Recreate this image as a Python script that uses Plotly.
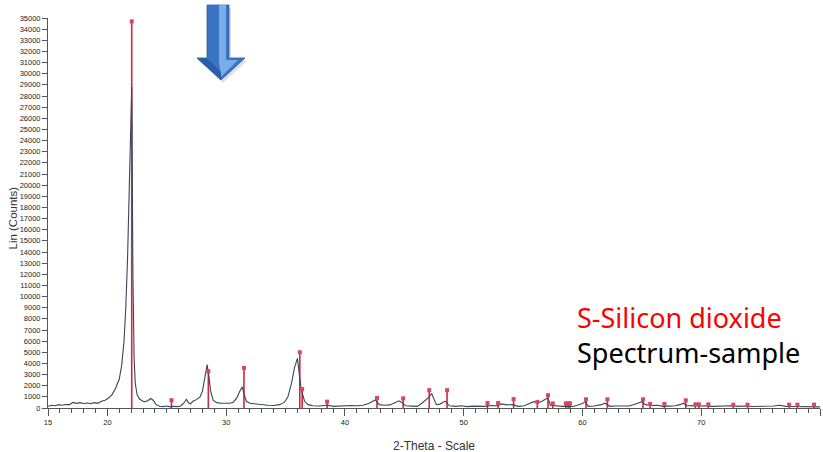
import plotly.graph_objects as go

# ---------------- data ----------------
two_theta = [15.0, 15.3, 15.6, 15.9, 16.2, 16.5, 16.8, 17.1, 17.4, 17.7, 18.0, 18.3, 18.6, 18.9,
             19.2, 19.5, 19.8, 20.1, 20.4, 20.7, 21.0, 21.2, 21.4, 21.55, 21.7, 21.85, 21.95,
             22.05, 22.15, 22.25, 22.35, 22.5, 22.7, 22.9, 23.1, 23.4, 23.65, 23.85, 24.1, 24.4,
             24.7, 25.0, 25.3, 25.6, 25.9, 26.2, 26.45, 26.65, 26.85, 27.0, 27.2, 27.5, 27.8,
             28.0, 28.2, 28.4, 28.55, 28.7, 28.9, 29.2, 29.6, 30.0, 30.3, 30.6, 30.9, 31.15,
             31.35, 31.5, 31.7, 32.0, 32.5, 33.0, 33.5, 34.0, 34.5, 34.9, 35.2, 35.5, 35.75,
             36.0, 36.15, 36.3, 36.45, 36.6, 36.9, 37.3, 37.8, 38.3, 38.6, 39.0, 39.5, 40.0,
             40.5, 41.0, 41.5, 42.0, 42.3, 42.55, 42.9, 43.3, 43.8, 44.2, 44.55, 44.8, 45.1,
             45.6, 46.1, 46.5, 46.8, 47.1, 47.3, 47.5, 47.7, 48.0, 48.3, 48.45, 48.8, 49.3,
             49.8, 50.3, 50.8, 51.3, 51.8, 52.3, 52.8, 53.2, 53.6, 54.1, 54.6, 55.1, 55.6,
             55.9, 56.3, 56.6, 56.9, 57.1, 57.3, 57.8, 58.3, 58.8, 59.2, 59.7, 60.0, 60.25,
             60.5, 61.0, 61.6, 61.9, 62.3, 62.8, 63.4, 63.9, 64.3, 64.7, 65.0, 65.3, 65.8,
             66.3, 66.8, 67.3, 67.8, 68.2, 68.5, 68.8, 69.3, 69.8, 70.3, 70.9, 71.5, 72.0,
             72.6, 73.1, 73.7, 74.3, 75.0, 75.6, 76.1, 76.6, 77.1, 77.7, 78.3, 78.9, 79.4, 80.0]
counts = [150, 250, 200, 300, 250, 320, 300, 500, 420, 480, 400, 450, 380, 480,
          420, 600, 700, 900, 1200, 1800, 2600, 3800, 6000, 9000, 13500, 19500, 24500,
          28800, 12000, 4500, 2200, 1200, 800, 650, 550, 650, 850, 700, 300, 150,
          120, 180, 100, 150, 120, 200, 450, 780, 450, 380, 600, 750, 1000,
          1500, 2600, 3900, 2800, 1500, 700, 480, 420, 450, 420, 520, 900, 1500,
          1900, 1300, 600, 420, 350, 300, 250, 220, 300, 500, 1000, 2200, 3600,
          4450, 3200, 1800, 1200, 600, 300, 200, 180, 220, 250, 150, 180, 150,
          220, 200, 250, 400, 600, 720, 300, 250, 280, 450, 650, 500, 200,
          170, 150, 450, 700, 1000, 1300, 800, 300, 350, 550, 620, 200, 150,
          200, 120, 170, 130, 150, 220, 200, 370, 280, 300, 150, 200, 400,
          570, 500, 600, 800, 870, 250, 170, 150, 170, 130, 300, 400, 570,
          150, 180, 300, 430, 150, 180, 150, 180, 300, 450, 570, 300, 220,
          250, 150, 170, 200, 300, 430, 200, 230, 180, 200, 150, 170, 150,
          200, 150, 180, 130, 150, 120, 180, 250, 150, 140, 120, 130, 100, 100]

ref_positions = [22.05, 25.4, 28.5, 31.5, 36.2, 36.4, 38.5, 42.7, 44.9, 47.1, 48.6, 52.0, 52.9,
                 54.2, 56.2, 57.1, 57.5, 58.6, 58.8, 58.95, 60.3, 62.1, 65.1, 65.7, 66.9, 68.7,
                 69.5, 69.8, 70.6, 72.7, 73.9, 77.4, 78.1, 79.5]
ref_heights = [34700, 700, 3300, 3600, 5000, 1700, 570, 900, 870, 1600, 1600, 450, 450,
               800, 550, 1150, 420, 420, 420, 420, 780, 780, 780, 360, 360, 690,
               330, 330, 330, 300, 300, 300, 300, 300]

x_tick_values = [15, 20, 30, 40, 50, 60, 70, 80]
x_title = "2-Theta - Scale"
y_title = "Lin (Counts)"
legend_ref = "S-Silicon dioxide"
legend_sample = "Spectrum-sample"

# ---------------- figure ----------------
W, H = 823, 452
L, R, T, B = 48, 3, 18, 44
PW, PH = W - L - R, H - T - B


def px(x):
    # window pixel x -> paper coordinate
    return (x - L) / PW


def py(y):
    # window pixel y -> paper coordinate
    return (T + PH - y) / PH


fig = go.Figure()

stick_x, stick_y = [], []
for p, h in zip(ref_positions, ref_heights):
    stick_x += [p, p, None]
    stick_y += [0, h, None]

fig.add_trace(go.Scatter(x=stick_x, y=stick_y, mode="lines",
                         line=dict(color="#d2283c", width=1.6),
                         hoverinfo="skip", showlegend=False))

fig.add_trace(go.Scatter(x=two_theta, y=counts, mode="lines",
                         line=dict(color="#3a4659", width=1.1),
                         showlegend=False))

fig.add_trace(go.Scatter(x=ref_positions, y=ref_heights, mode="markers",
                         marker=dict(symbol="square", size=4, color="#d9475b"),
                         showlegend=False))

axis_font = dict(family="Liberation Sans, Arial", size=7.5, color="#222222")

fig.update_xaxes(range=[15, 80], tickmode="array", tickvals=x_tick_values,
                 ticks="outside", ticklen=7, tickcolor="#555555", tickwidth=1,
                 showline=True, linecolor="#555555", linewidth=1,
                 showgrid=False, zeroline=False, tickfont=axis_font,
                 minor=dict(tickmode="linear", tick0=15, dtick=1, ticks="outside",
                            ticklen=4, tickcolor="#555555", showgrid=False))
fig.update_yaxes(range=[0, 35000], dtick=1000, tickformat="d", ticks="outside", ticklen=5,
                 tickcolor="#555555", showline=True, linecolor="#555555", linewidth=1,
                 showgrid=False, zeroline=False, tickfont=axis_font)

legend_text = (f"<span style='color:#ff0000'>{legend_ref}</span><br>"
               f"<span style='color:#000000'>{legend_sample}</span>")

annotations = [
    dict(text=y_title, x=px(12.5), y=py(218), xref="paper", yref="paper",
         textangle=-90, showarrow=False, xanchor="center", yanchor="middle",
         font=dict(family="Liberation Sans, Arial", size=11.5, color="#333333")),
    dict(text=x_title, x=px(434), y=py(446), xref="paper", yref="paper",
         showarrow=False, xanchor="center", yanchor="middle",
         font=dict(family="Liberation Sans, Arial", size=12, color="#333333")),
    dict(text=legend_text, x=px(575), y=py(335), xref="paper", yref="paper",
         showarrow=False, xanchor="left", yanchor="middle", align="left",
         font=dict(family="Noto Sans", size=27, color="#000000")),
]


def path(points):
    return "M " + " L ".join(f"{px(a):.5f},{py(b):.5f}" for a, b in points) + " Z"


arrow_outline = [(207, 5), (229, 5), (229, 58), (245, 58), (221, 80), (197, 58), (207, 58)]
arrow_light = [(219, 5), (226, 5), (226, 60), (238, 60), (221, 77), (219, 62)]
arrow_dark = [(197, 58), (207, 58), (221, 72), (221, 80)]
shapes = [
    dict(type="path", path=path([(a + 2, b + 3) for a, b in arrow_outline]), xref="paper", yref="paper",
         fillcolor="rgba(0,0,0,0.12)", line=dict(width=0), layer="above"),
    dict(type="path", path=path(arrow_outline), xref="paper", yref="paper",
         fillcolor="#3b74c2", line=dict(color="#2c5fa6", width=0.8), layer="above"),
    dict(type="path", path=path(arrow_light), xref="paper", yref="paper",
         fillcolor="#78acea", line=dict(width=0), layer="above"),
    dict(type="path", path=path(arrow_dark), xref="paper", yref="paper",
         fillcolor="#2b5ea8", line=dict(width=0), layer="above"),
]

fig.update_layout(width=W, height=H, margin=dict(l=L, r=R, t=T, b=B),
                  paper_bgcolor="white", plot_bgcolor="white",
                  annotations=annotations, shapes=shapes, showlegend=False)

# remove the default page margin so the figure sits at the window's top-left corner
fig.write_html("out.html", config={"displayModeBar": False},
               post_script="document.body.style.margin='0px';")
